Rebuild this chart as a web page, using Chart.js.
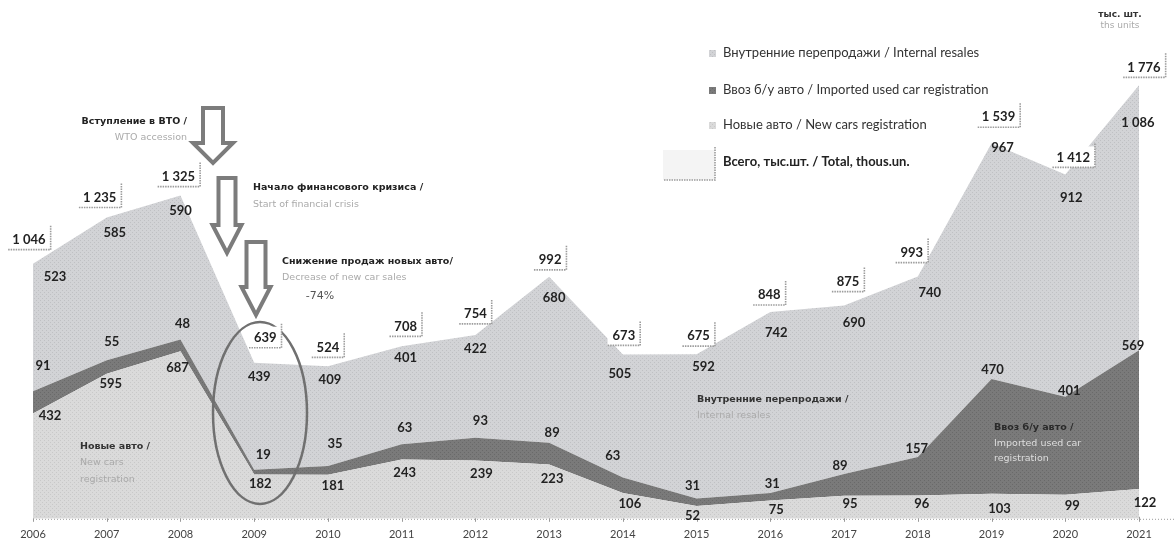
<!DOCTYPE html>
<html>
<head>
<meta charset="utf-8">
<script src="https://cdn.jsdelivr.net/npm/chart.js@4/dist/chart.umd.min.js"></script>
<style>
html,body{margin:0;padding:0;background:#fff}
#wrap{position:relative;width:1174px;height:545px}
</style>
</head>
<body>
<div id="wrap"><canvas id="chart" width="1174" height="545"></canvas></div>
<script>
// data (thousand units)
const years=["2006","2007","2008","2009","2010","2011","2012","2013","2014","2015","2016","2017","2018","2019","2020","2021"]
const newCars=[432,595,687,182,181,243,239,223,106,52,75,95,96,103,99,122]
const usedImport=[91,55,48,19,35,63,93,89,63,31,31,89,157,470,401,569]
const resales=[523,585,590,439,409,401,422,680,505,592,742,690,740,967,912,1086]
const totalLabels=["1 046","1 235","1 325","639","524","708","754","992","673","675","848","875","993","1 539","1 412","1 776"]

// label offsets in px (layout only)
const totalOff=[[-4,-24],[-7,-20],[-2,-19],[11,-25],[0,-19],[4,-20],[0,-21],[1,-17],[1,-19],[2,-18],[-1,-17],[4,-24],[-6,-24],[7,-26],[8,-17],[5,-18]]
const resOff=[[22,13],[8,15],[0,15],[5,14],[2,13],[4,11],[0,14],[5,21],[-3,19],[7,13],[6,21],[10,17],[12,16],[11,5],[6,23],[-1,37]]
const impOff=[[10,-25],[5,-18],[2,-16],[9,-15],[7,-22],[3,-16],[5,-17],[3,-10],[-10,-22],[-4,-13],[2,-9],[-4,-8],[-1,-8],[1,-9],[4,-6],[-6,-4]]
const newOff=[[17,2],[4,10],[-3,17],[6,9],[5,11],[3,13],[6,13],[3,14],[7,11],[-4,10],[6,9],[6,8],[4,8],[8,15],[7,11],[6,14]]

const canvas=document.getElementById("chart")
const ctx0=canvas.getContext("2d")

function stipple(base,dot){
const c=document.createElement("canvas")
c.width=4;c.height=4
const g=c.getContext("2d")
g.fillStyle=base;g.fillRect(0,0,4,4)
g.fillStyle=dot;g.fillRect(0,0,1,1);g.fillRect(2,2,1,1)
return ctx0.createPattern(c,"repeat")
}

const resFill=stipple("#d2d3d6","#bfc0c3")
const impFill=stipple("#7a7a7a","#696969")
const newFill=stipple("#dadada","#c8c8c8")

function txt(ctx,s,x,y,font,color,align){
ctx.font=font
ctx.fillStyle=color
ctx.textAlign=align||"left"
ctx.textBaseline="middle"
ctx.fillText(s,x,y)
}

function arrow(ctx,cx,top,sw,hw,headY,tip){
ctx.beginPath()
ctx.moveTo(cx-sw/2,top)
ctx.lineTo(cx+sw/2,top)
ctx.lineTo(cx+sw/2,headY)
ctx.lineTo(cx+hw/2,headY)
ctx.lineTo(cx,tip)
ctx.lineTo(cx-hw/2,headY)
ctx.lineTo(cx-sw/2,headY)
ctx.closePath()
ctx.fillStyle="#fff"
ctx.fill()
ctx.lineWidth=4
ctx.strokeStyle="#7c7c7c"
ctx.stroke()
}

const NUM="bold 13px Lato"
const NOTE="bold 9.5px 'DejaVu Sans'"
const NOTE2="9.5px 'DejaVu Sans'"

const decor={
id:"decor",
beforeDatasetsDraw(chart){
const {ctx,chartArea:a,scales:{x}}=chart
ctx.save()
// dotted axis line + ticks
ctx.strokeStyle="#9a9a9a"
ctx.lineWidth=1
ctx.setLineDash([1,2])
ctx.beginPath()
ctx.moveTo(a.left,a.bottom+0.5)
ctx.lineTo(chart.width,a.bottom+0.5)
ctx.stroke()
ctx.setLineDash([])
years.forEach((y,i)=>{
const px=Math.round(x.getPixelForValue(i))+0.5
ctx.beginPath()
ctx.moveTo(px,a.bottom-2)
ctx.lineTo(px,a.bottom+3)
ctx.stroke()
})
ctx.restore()
},
afterDatasetsDraw(chart){
const {ctx,scales:{x,y}}=chart
ctx.save()

// notes inside areas
txt(ctx,"Новые авто /",80,447,NOTE,"#333")
txt(ctx,"New cars",80,463,NOTE2,"#a9a9a9")
txt(ctx,"registration",80,480,NOTE2,"#a9a9a9")
txt(ctx,"Внутренние перепродажи /",697,400,NOTE,"#333")
txt(ctx,"Internal resales",697,416,NOTE2,"#aaaaaa")
txt(ctx,"Ввоз б/у авто /",994,428,NOTE,"#2a2a2a")
txt(ctx,"Imported used car",994,444,NOTE2,"#dedede")
txt(ctx,"registration",994,459,NOTE2,"#dedede")

// series values
years.forEach((yr,i)=>{
const px=x.getPixelForValue(i)
const yNew=y.getPixelForValue(newCars[i])
const yImp=y.getPixelForValue(newCars[i]+usedImport[i])
const yTop=y.getPixelForValue(newCars[i]+usedImport[i]+resales[i])
txt(ctx,String(newCars[i]),px+newOff[i][0],yNew+newOff[i][1],NUM,"#222","center")
txt(ctx,String(usedImport[i]),px+impOff[i][0],yImp+impOff[i][1],NUM,"#222","center")
const r=resales[i]>=1000?String(resales[i]).replace(/(\d)(\d{3})$/,"$1 $2"):String(resales[i])
txt(ctx,r,px+resOff[i][0],yTop+resOff[i][1],NUM,"#222","center")
})

// 2009 ellipse
ctx.beginPath()
ctx.ellipse(260,413,47,91,0,0,Math.PI*2)
ctx.lineWidth=2.5
ctx.strokeStyle="#707070"
ctx.stroke()

// total boxes
years.forEach((yr,i)=>{
const px=x.getPixelForValue(i)
const yTop=y.getPixelForValue(newCars[i]+usedImport[i]+resales[i])
const cx=px+totalOff[i][0]
const cy=yTop+totalOff[i][1]
ctx.font=NUM
const w=ctx.measureText(totalLabels[i]).width
const l=cx-w/2-5,r=cx+w/2+5,t=cy-11,b=cy+10
ctx.fillStyle="#fff"
ctx.fillRect(l,t,r-l,b-t)
ctx.strokeStyle="#9c9c9c"
ctx.lineWidth=1.6
ctx.setLineDash([1.5,1])
ctx.beginPath()
ctx.moveTo(r,t-3)
ctx.lineTo(r,b)
ctx.lineTo(l,b)
ctx.stroke()
ctx.setLineDash([])
txt(ctx,totalLabels[i],cx,cy,NUM,"#222","center")
})

// arrows and event notes
arrow(ctx,213,108,20,40,143,163)
arrow(ctx,227,178,17,29,225,253)
arrow(ctx,256,242,19,29,287,315)
txt(ctx,"Вступление в ВТО /",187,122,NOTE,"#222","right")
txt(ctx,"WTO accession",187,138,NOTE2,"#aaaaaa","right")
txt(ctx,"Начало финансового кризиса /",253,188,NOTE,"#222")
txt(ctx,"Start of financial crisis",253,205,NOTE2,"#aaaaaa")
txt(ctx,"Снижение продаж новых авто/",282,262,NOTE,"#222")
txt(ctx,"Decrease of new car sales",282,278,NOTE2,"#aaaaaa")
txt(ctx,"-74%",320,296,"11px 'DejaVu Sans'","#555","center")

// legend
const lg=[
[resFill,"Внутренние перепродажи / Internal resales",53],
[impFill,"Ввоз б/у авто / Imported used car registration",90],
[newFill,"Новые авто / New cars registration",125]
]
lg.forEach(it=>{
ctx.fillStyle=it[0]
ctx.fillRect(709,it[2]-3,7,7)
txt(ctx,it[1],723,it[2],"13px Lato","#333")
})
ctx.fillStyle="#f4f4f4"
ctx.fillRect(663,150,52,30)
ctx.strokeStyle="#9c9c9c"
ctx.lineWidth=1.6
ctx.setLineDash([1.5,1])
ctx.beginPath()
ctx.moveTo(715,147)
ctx.lineTo(715,180)
ctx.lineTo(663,180)
ctx.stroke()
ctx.setLineDash([])
txt(ctx,"Всего, тыс.шт. / Total, thous.un.",723,162,"bold 13px Lato","#222")

// units
txt(ctx,"тыс. шт.",1120,15,"bold 9px 'DejaVu Sans'","#333","center")
txt(ctx,"ths units",1120,26,"9px 'DejaVu Sans'","#aaaaaa","center")
ctx.restore()
}
}

const area=(label,data,fill,fillTo)=>({
label:label,
data:data,
backgroundColor:fill,
borderWidth:0,
pointRadius:0,
tension:0,
fill:fillTo
})

new Chart(canvas,{
type:"line",
data:{
labels:years,
datasets:[
area("Новые авто / New cars registration",newCars,newFill,"origin"),
area("Ввоз б/у авто / Imported used car registration",usedImport,impFill,"-1"),
area("Внутренние перепродажи / Internal resales",resales,resFill,"-1")
]
},
options:{
responsive:false,
animation:false,
events:[],
layout:{padding:{left:33,right:35,top:0,bottom:-5}},
plugins:{legend:{display:false},tooltip:{enabled:false}},
scales:{
x:{
offset:false,
grid:{display:false,drawTicks:false},
border:{display:false},
ticks:{padding:9,color:"#444",font:{family:"Lato",size:11}}
},
y:{display:false,stacked:true,min:0,max:2127}
}
},
plugins:[decor]
})
</script>
</body>
</html>
